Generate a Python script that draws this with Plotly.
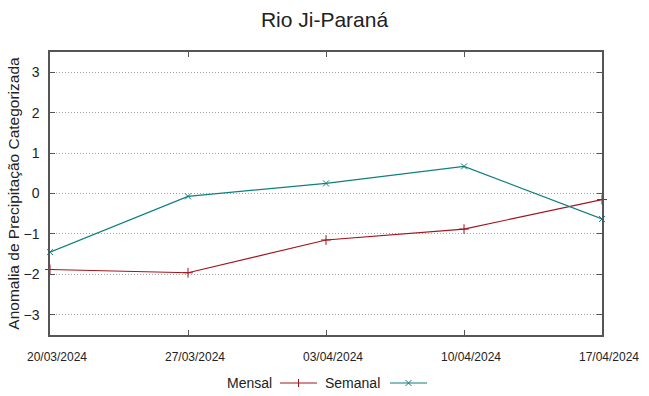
import plotly.graph_objects as go

dates = ["2024-03-20", "2024-03-27", "2024-04-03", "2024-04-10", "2024-04-17"]
mensal = [-1.88, -1.96, -1.15, -0.88, -0.15]
semanal = [-1.45, -0.07, 0.25, 0.67, -0.63]
tick_vals = ["2024-03-20", "2024-03-27", "2024-04-03", "2024-04-10", "2024-04-17"]
tick_text = ["20/03/2024", "27/03/2024", "03/04/2024", "10/04/2024", "17/04/2024"]
y_ticks = [-3, -2, -1, 0, 1, 2, 3]

RED = "#a3141c"
TEAL = "#0f7f80"
FONT = "Liberation Sans, Arial, sans-serif"

fig = go.Figure()
fig.add_trace(go.Scatter(
    x=dates, y=mensal, mode="lines+markers", name="Mensal",
    line=dict(color=RED, width=1.2),
    marker=dict(symbol="cross-thin", size=7, line=dict(color=RED, width=1)),
    cliponaxis=False,
))
fig.add_trace(go.Scatter(
    x=dates, y=semanal, mode="lines+markers", name="Semanal",
    line=dict(color=TEAL, width=1.2),
    marker=dict(symbol="x-thin", size=6, line=dict(color=TEAL, width=1)),
    cliponaxis=False,
))

fig.update_layout(
    width=649, height=396,
    margin=dict(l=50, r=47, t=52, b=61),
    paper_bgcolor="white", plot_bgcolor="white",
    showlegend=False,
    font=dict(family=FONT, color="#222222"),
    title=dict(text="Rio Ji-Paraná", x=0.5, xanchor="center", y=0.95, yanchor="middle",
               font=dict(size=21, color="#222222")),
)
fig.update_xaxes(
    type="date", range=["2024-03-20", "2024-04-17"],
    tickvals=tick_vals, ticktext=tick_text,
    tickfont=dict(size=12, color="#222222"),
    showgrid=False, zeroline=False, automargin=False,
    showline=True, linecolor="#555555", linewidth=1.5, mirror="ticks",
    ticks="inside", ticklen=5, tickcolor="#555555",
    ticklabelshift=7, ticklabelstandoff=10,
)
fig.update_yaxes(
    range=[-3.5, 3.5], tickvals=y_ticks,
    tickfont=dict(size=14, color="#222222"),
    showgrid=True, gridcolor="#a0a0a0", griddash="1px,2px", gridwidth=1,
    zeroline=False, automargin=False,
    showline=True, linecolor="#555555", linewidth=1.5, mirror="ticks",
    ticks="inside", ticklen=5, tickcolor="#555555",
    ticklabelstandoff=6,
    title=dict(text="Anomalia de Precipitação Categorizada", font=dict(size=15.5, color="#222222"),
               standoff=0),
)

# gnuplot-style legend: text followed by line sample
leg_y = 383
def px(x):
    return (x - 50) / (649 - 50 - 47)
def py(y):
    return (396 - 61 - y) / (396 - 52 - 61)

fig.add_annotation(text="Mensal", xref="paper", yref="paper", x=px(274), y=py(leg_y),
                   xanchor="right", yanchor="middle", showarrow=False,
                   font=dict(size=14, color="#222222"))
fig.add_shape(type="line", xref="paper", yref="paper", x0=px(280), x1=px(317),
              y0=py(leg_y), y1=py(leg_y), line=dict(color=RED, width=1))
fig.add_shape(type="line", xref="paper", yref="paper", x0=px(298.5), x1=px(298.5),
              y0=py(leg_y - 4), y1=py(leg_y + 4), line=dict(color=RED, width=1))
fig.add_annotation(text="Semanal", xref="paper", yref="paper", x=px(382), y=py(leg_y),
                   xanchor="right", yanchor="middle", showarrow=False,
                   font=dict(size=14, color="#222222"))
fig.add_shape(type="line", xref="paper", yref="paper", x0=px(390), x1=px(427),
              y0=py(leg_y), y1=py(leg_y), line=dict(color=TEAL, width=1))
fig.add_shape(type="line", xref="paper", yref="paper", x0=px(405.5), x1=px(411.5),
              y0=py(leg_y - 3), y1=py(leg_y + 3), line=dict(color=TEAL, width=1))
fig.add_shape(type="line", xref="paper", yref="paper", x0=px(405.5), x1=px(411.5),
              y0=py(leg_y + 3), y1=py(leg_y - 3), line=dict(color=TEAL, width=1))

fig.write_html("out.html", config={"displayModeBar": False},
               post_script="document.body.style.margin='0';document.body.style.overflow='hidden';")
